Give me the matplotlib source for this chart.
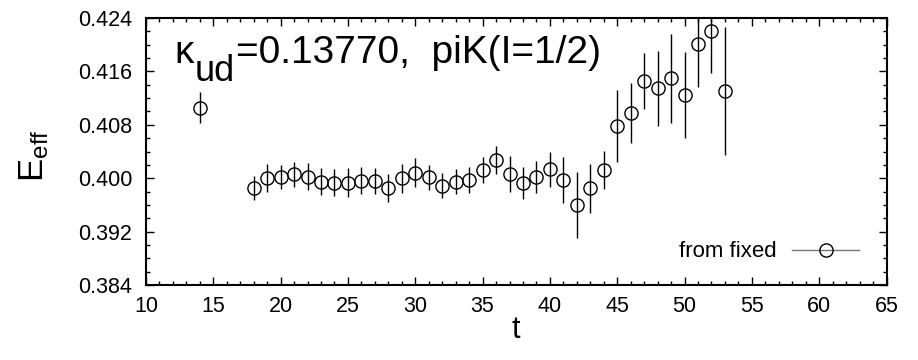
import numpy as np
import matplotlib
matplotlib.use('Agg')
import matplotlib.pyplot as plt
from matplotlib.ticker import MultipleLocator, FormatStrFormatter

plt.rcParams['font.family'] = ['Liberation Sans', 'DejaVu Sans']
plt.rcParams['mathtext.fontset'] = 'custom'
plt.rcParams['mathtext.rm'] = 'Liberation Sans'
plt.rcParams['mathtext.it'] = 'Liberation Sans'

# effective energy from fixed source
t = [14, 18, 19, 20, 21, 22, 23, 24, 25, 26, 27, 28, 29, 30, 31, 32, 33,
     34, 35, 36, 37, 38, 39, 40, 41, 42, 43, 44, 45, 46, 47, 48, 49, 50,
     51, 52, 53]
e_eff = [0.41056, 0.39848, 0.40008, 0.40023, 0.40058, 0.40023, 0.39948,
         0.39933, 0.39933, 0.39963, 0.39958, 0.39848, 0.39998, 0.40083,
         0.40013, 0.39888, 0.39948, 0.39973, 0.40123, 0.40273, 0.40058,
         0.39933, 0.40023, 0.40133, 0.39973, 0.39598, 0.39848, 0.40123,
         0.40782, 0.40972, 0.41456, 0.41346, 0.41496, 0.41246, 0.42010,
         0.42210, 0.41311]
e_err = [0.0023, 0.0018, 0.0021, 0.0018, 0.0019, 0.0020, 0.0020, 0.0020,
         0.0022, 0.0020, 0.0020, 0.0021, 0.0022, 0.0022, 0.0019, 0.0019,
         0.0019, 0.0020, 0.0020, 0.0021, 0.0027, 0.0024, 0.0024, 0.0026,
         0.0035, 0.0050, 0.0037, 0.0029, 0.0054, 0.0045, 0.0042, 0.0056,
         0.0067, 0.0065, 0.0065, 0.0064, 0.0096]

fig = plt.figure(figsize=(9.18, 3.6), dpi=100)
ax = fig.add_axes([0.159, 0.2083, 0.8067, 0.7417])

ax.errorbar(t, e_eff, yerr=e_err, fmt='o', ms=9.5, mfc='none', mec='k',
            mew=1.0, ecolor='k', elinewidth=1.0, capsize=0, color='k')

# legend handle: grey line with circle
h, = ax.plot([], [], '-o', color='#777777', lw=1.0, ms=9.5, mfc='none',
             mec='k', mew=1.0)
ax.legend([h], ['from fixed'], loc='center right', frameon=False,
          markerfirst=False, handlelength=3.0, fontsize=16,
          bbox_to_anchor=(0.975, 0.124), borderaxespad=0, handletextpad=0.7)

# label inside the plot, built from pieces so the subscript stays large
base_y = 0.830
t1 = ax.text(0.039, base_y, 'κ', transform=ax.transAxes, fontsize=28,
             va='baseline', ha='left')
t2 = ax.annotate('ud', xy=(1, base_y), xycoords=(t1, 'axes fraction'),
                 xytext=(0.5, -13), textcoords='offset points',
                 fontsize=26, va='baseline', ha='left')
ax.annotate('=0.13770,  piK(I=1/2)', xy=(1, base_y),
            xycoords=(t2, 'axes fraction'), xytext=(0.5, 0),
            textcoords='offset points', fontsize=28, va='baseline', ha='left')

ax.set_xlim(10, 65)
ax.set_ylim(0.384, 0.424)
ax.xaxis.set_major_locator(MultipleLocator(5))
ax.xaxis.set_minor_locator(MultipleLocator(1))
ax.yaxis.set_major_locator(MultipleLocator(0.008))
ax.yaxis.set_minor_locator(MultipleLocator(0.002))
ax.yaxis.set_major_formatter(FormatStrFormatter('%.3f'))

ax.tick_params(which='both', direction='in', top=True, right=True,
               labelsize=15.5)
ax.tick_params(axis='x', pad=8)
ax.tick_params(axis='y', pad=10)
ax.tick_params(which='major', length=6, width=1.0)
ax.tick_params(which='minor', length=3, width=1.0)
for s in ax.spines.values():
    s.set_linewidth(1.5)

ax.set_xlabel('t', fontsize=22)
ax.set_ylabel(r'E$_{\rm eff}$', fontsize=25)
ax.xaxis.set_label_coords(0.5, -0.112)
ax.yaxis.set_label_coords(-0.128, 0.483)

fig.savefig('out.png', dpi=100)
